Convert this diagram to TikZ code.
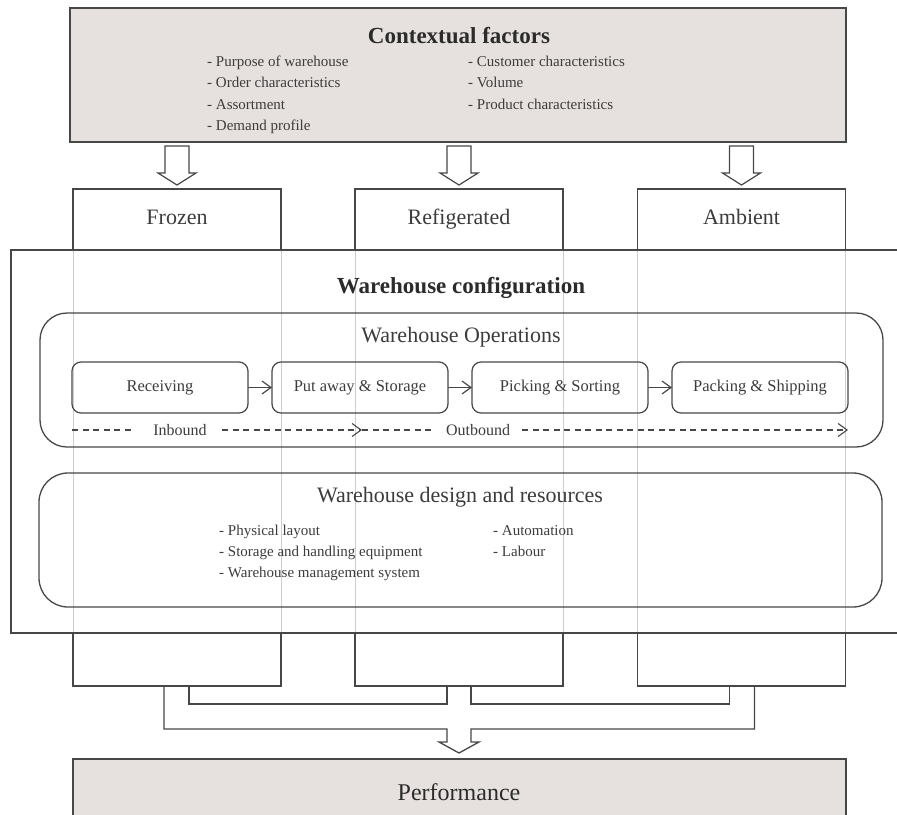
\documentclass[tikz,border=0pt]{standalone}
\usepackage{fontspec}
\setmainfont{Liberation Serif}
\usetikzlibrary{arrows.meta}

\definecolor{ink}{HTML}{474747}
\definecolor{txt}{HTML}{2B2B2B}
\definecolor{soft}{HTML}{3C3C3C}
\definecolor{paper}{HTML}{E6E1DE}
\definecolor{ghost}{HTML}{CDCDCD}

\newcommand\pxfont[1]{\fontsize{#1}{#1}\selectfont}

\begin{document}
\begin{tikzpicture}[x=1pt,y=-1pt,
  frame/.style={draw=ink,line width=1.3pt,inner sep=0pt,outer sep=0pt},
  shaded/.style={frame,fill=paper},
  colbox/.style={frame,minimum width=208pt,font=\pxfont{22},text=soft,
    text height=15pt,text depth=5pt},
  stepbox/.style={frame,line width=1.2pt,rounded corners=9pt,minimum width=176pt,
    minimum height=51pt,font=\pxfont{16.5},text=soft,text height=11.5pt,text depth=3.5pt},
  roundbox/.style={frame,rounded corners=27pt,minimum width=843pt,minimum height=134pt},
  heading/.style={font=\pxfont{23}\bfseries,text=txt,inner sep=0pt},
  subheading/.style={font=\pxfont{22},text=soft,inner sep=0pt,text height=15pt,text depth=5pt},
  item/.style={anchor=west,inner sep=0pt,font=\pxfont{15},text=soft,
    text height=10.5pt,text depth=3pt},
  flowlabel/.style={font=\pxfont{16},text=soft,inner sep=0pt},
  flow/.style={draw=ink,line width=1.2pt,-{Straight Barb[length=9pt,width=13pt]}},
  dashline/.style={draw=ink,line width=1.1pt,dash pattern=on 6pt off 4.5pt},
  wall/.style={draw=ghost,line width=1pt},
  merge/.style={draw=ink,line width=1.3pt,line join=miter},
  hollowdown/.pic={\draw[ink,line width=1.2pt,line join=miter]
    (-12,0) -- (-12,27) -- (-19,27) -- (0,39) -- (19,27) -- (12,27) -- (12,0) -- cycle;}
]
\useasboundingbox (0,0) rectangle (897,814);
\clip (0,0) rectangle (897,814);

% ---------- contextual factors ----------
\node[shaded,minimum width=776pt,minimum height=134pt] (ctx) at (458,75) {};
\node[heading] (ctxtitle) at (459,36) {Contextual factors};
\node[item] (c1) at (207,63)  {- Purpose of warehouse};
\node[item] (c2) at (207,84)  {- Order characteristics};
\node[item] (c3) at (207,106) {- Assortment};
\node[item] (c4) at (207,127) {- Demand profile};
\node[item] (c5) at (468,63)  {- Customer characteristics};
\node[item] (c6) at (468,84)  {- Volume};
\node[item] (c7) at (468,106) {- Product characteristics};

% ---------- temperature zones (top and bottom parts) ----------
\node[colbox,minimum height=61pt] (frozT) at (177,219.5) {Frozen};
\node[colbox,minimum height=61pt] (refT)  at (459,219.5) {Refigerated};
\node[colbox,minimum height=61pt] (ambT)  at (741.5,219.5) {Ambient};
\node[colbox,minimum height=53pt] (frozB) at (177,659.5) {};
\node[colbox,minimum height=53pt] (refB)  at (459,659.5) {};
\node[colbox,minimum height=53pt] (ambB)  at (741.5,659.5) {};

% zone walls seen through the configuration block
\foreach \z in {frozT/frozB,refT/refB,ambT/ambB}{
  \foreach \t/\b in \z{
    \draw[wall] (\t.south west) -- (\b.north west);
    \draw[wall] (\t.south east) -- (\b.north east);
  }
}

% hollow arrows from contextual factors into each zone
\pic at (frozT.north |- 0,146) {hollowdown};
\pic at (refT.north |- 0,146)  {hollowdown};
\pic at (ambT.north |- 0,146)  {hollowdown};

% ---------- warehouse configuration ----------
\draw[draw=ink,line width=1.3pt] (910,250) -- (11,250) -- (11,633) -- (910,633);
\node[heading] (cfgtitle) at (461,288) {Warehouse configuration};

% operations
\node[roundbox] (ops) at (461.5,380) {};
\node[subheading] (opstitle) at (461,337) {Warehouse Operations};
\node[stepbox] (recv) at (160,387.5) {Receiving};
\node[stepbox] (put)  at (360,387.5) {Put away \& Storage};
\node[stepbox] (pick) at (560,387.5) {Picking \& Sorting};
\node[stepbox] (pack) at (760,387.5) {Packing \& Shipping};
\draw[flow] (recv) -- (put);
\draw[flow] (put) -- (pick);
\draw[flow] (pick) -- (pack);

% inbound / outbound flow
\coordinate (d0) at (72,430);
\coordinate (d1) at (135,430);
\coordinate (d2) at (222,430);
\coordinate (d3) at (362,430);
\coordinate (d4) at (432,430);
\coordinate (d5) at (522,430);
\coordinate (d6) at (848,430);
\node[flowlabel] (inb)  at (180,430) {Inbound};
\node[flowlabel] (outb) at (478,430) {Outbound};
\draw[dashline] (d0) -- (d1);
\draw[dashline,-{Straight Barb[length=9pt,width=13pt]}] (d2) -- (d3);
\draw[dashline] (d3) -- (d4);
\draw[dashline,-{Straight Barb[length=9pt,width=13pt]}] (d5) -- (d6);

% design and resources
\node[roundbox,rounded corners=29pt] (design) at (460.5,540) {};
\node[subheading] (destitle) at (460,497) {Warehouse design and resources};
\node[item] (r1) at (219,532) {- Physical layout};
\node[item] (r2) at (219,553) {- Storage and handling equipment};
\node[item] (r3) at (219,574) {- Warehouse management system};
\node[item] (r4) at (493,532) {- Automation};
\node[item] (r5) at (493,553) {- Labour};

% ---------- merging arrow into performance ----------
\draw[merge]
  ([xshift=116pt]frozB.south west) -- ++(0,18) -| ([xshift=-12pt]refB.south);
\draw[merge]
  ([xshift=12pt]refB.south) -- ++(0,18) -| ([xshift=92pt]ambB.south west);
\draw[merge]
  ([xshift=91pt]frozB.south west) |- ([xshift=-12pt,yshift=-43pt]refB.south)
  -- ++(0,13) -- ++(-8,0) -- ++(20,11) -- ++(20,-11) -- ++(-8,0) -- ++(0,-13)
  -| ([xshift=117pt]ambB.south west);

% ---------- performance ----------
\node[shaded,minimum width=773pt,minimum height=64pt] (perf) at (459.5,791) {};
\node[font=\pxfont{24},text=txt,inner sep=0pt] (perftitle) at (459,792) {Performance};
\end{tikzpicture}
\end{document}
